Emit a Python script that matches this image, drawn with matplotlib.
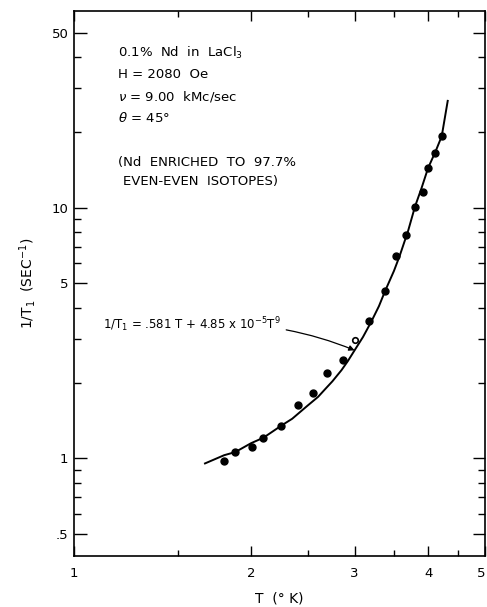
import matplotlib.pyplot as plt
from matplotlib.ticker import FixedLocator, NullFormatter

plt.rcParams['font.family'] = ['DejaVu Sans']

# measured points (T in K, 1/T1 in 1/sec)
temp = [1.80, 1.875, 2.01, 2.095, 2.245, 2.405, 2.55, 2.69, 2.87, 3.17,
        3.385, 3.53, 3.67, 3.805, 3.915, 4.0, 4.115, 4.225]
rate = [0.978, 1.06, 1.11, 1.21, 1.35, 1.64, 1.82, 2.19, 2.48, 3.53,
        4.65, 6.44, 7.78, 10.1, 11.6, 14.4, 16.6, 19.3]

# the one open circle
open_temp = [3.0]
open_rate = [2.98]

# fitted curve
curve_temp = [1.67, 1.8, 1.88, 2.0, 2.1, 2.25, 2.35, 2.43, 2.5, 2.6, 2.69,
              2.75, 2.85, 2.92, 3.0, 3.1, 3.2, 3.3, 3.38, 3.5, 3.58, 3.7,
              3.8, 3.9, 4.0, 4.12, 4.22, 4.32]
curve_rate = [0.955, 1.03, 1.06, 1.15, 1.21, 1.35, 1.44, 1.54, 1.63, 1.76,
              1.92, 2.03, 2.25, 2.44, 2.70, 3.05, 3.50, 4.05, 4.65, 5.6,
              6.44, 8.1, 10.1, 12.0, 14.4, 16.8, 19.3, 26.7]

y_major = [0.5, 1, 5, 10, 50]
y_major_labels = [".5", "1", "5", "10", "50"]
y_minor = [0.6, 0.7, 0.8, 0.9, 2, 3, 4, 6, 7, 8, 9, 20, 30, 40]
x_major = [1, 2, 3, 4, 5]
x_minor = [1.5, 2.5, 3.5, 4.5]

fig = plt.figure(figsize=(4.87, 6.07), dpi=100)
ax = fig.add_axes([0.152, 0.084, 0.844, 0.898])

ax.plot(curve_temp, curve_rate, color="black", lw=1.4)
ax.plot(temp, rate, "o", color="black", ms=5)
ax.plot(open_temp, open_rate, "o", mfc="white", mec="black", mew=1.2, ms=4)

ax.set_xscale("log")
ax.set_yscale("log")
ax.set_xlim(1, 5)
ax.set_ylim(0.408, 61)

ax.xaxis.set_major_locator(FixedLocator(x_major))
ax.xaxis.set_minor_locator(FixedLocator(x_minor))
ax.set_xticklabels([str(v) for v in x_major])
ax.xaxis.set_minor_formatter(NullFormatter())
ax.yaxis.set_major_locator(FixedLocator(y_major))
ax.yaxis.set_minor_locator(FixedLocator(y_minor))
ax.set_yticklabels(y_major_labels)
ax.yaxis.set_minor_formatter(NullFormatter())

ax.tick_params(which="both", direction="in", top=True, right=True,
               width=1.0, labelsize=9.5)
ax.tick_params(axis="y", which="major", length=9, pad=4)
ax.tick_params(axis="y", which="minor", length=5)
ax.tick_params(axis="x", which="major", length=7, pad=8)
ax.tick_params(axis="x", which="minor", length=4)
for s in ax.spines.values():
    s.set_linewidth(1.2)
# keep the last x label inside the picture
ax.get_xticklabels()[-1].set_horizontalalignment("right")

ax.set_xlabel("T  (° K)", fontsize=10, labelpad=8)
ax.set_ylabel("1/T$_1$  (SEC$^{-1}$)", fontsize=10, labelpad=10)

info = ["0.1%  Nd  in  LaCl$_3$", "H = 2080  Oe", r"$\nu$ = 9.00  kMc/sec",
        r"$\theta$ = 45°"]
for i, line in enumerate(info):
    fig.text(118 / 487, 1 - (53 + i * 21.5) / 607, line, fontsize=9.5,
             va="center", ha="left")
fig.text(118 / 487, 1 - 162.7 / 607, "(Nd  ENRICHED  TO  97.7%", fontsize=9.5,
         va="center", ha="left")
fig.text(123 / 487, 1 - 181.7 / 607, "EVEN-EVEN  ISOTOPES)", fontsize=9.5,
         va="center", ha="left")

ax.annotate("1/T$_1$ = .581 T + 4.85 x 10$^{-5}$T$^9$",
            xy=(3.0, 2.70), xycoords="data",
            xytext=(103 / 487, 1 - 325 / 607), textcoords="figure fraction",
            fontsize=8.5, va="center", ha="left",
            arrowprops=dict(arrowstyle="-|>", color="black", lw=0.9,
                            mutation_scale=8, shrinkA=2, shrinkB=0,
                            connectionstyle="arc3,rad=-0.12"))

fig.savefig("out.png", dpi=100)
